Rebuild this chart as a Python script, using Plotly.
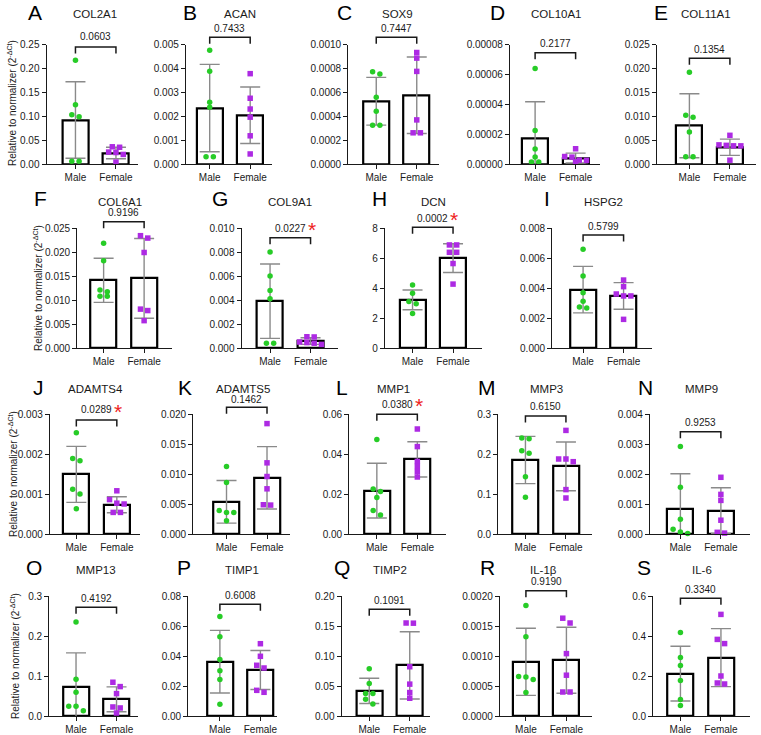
import plotly.graph_objects as go

W, H = 761, 735

# ---------------- data ----------------
letters = list("ABCDEFGHIJKLMNOPQRS")
genes = ["COL2A1", "ACAN", "SOX9", "COL10A1", "COL11A1",
         "COL6A1", "COL9A1", "DCN", "HSPG2",
         "ADAMTS4", "ADAMTS5", "MMP1", "MMP3", "MMP9",
         "MMP13", "TIMP1", "TIMP2", "IL-1β", "IL-6"]
p_values = ["0.0603", "0.7433", "0.7447", "0.2177", "0.1354",
            "0.9196", "0.0227", "0.0002", "0.5799",
            "0.0289", "0.1462", "0.0380", "0.6150", "0.9253",
            "0.4192", "0.6008", "0.1091", "0.9190", "0.3340"]
significant = [False, False, False, False, False,
               False, True, True, False,
               True, False, True, False, False,
               False, False, False, False, False]
groups = ["Male", "Female"]

male_values = [
    [0.217, 0.124, 0.103, 0.099, 0.006, 0.006],
    [0.00476, 0.00388, 0.00258, 0.00237, 0.0003, 0.0003],
    [0.000772, 0.000753, 0.000558, 0.000442, 0.000325, 0.000325],
    [0.0000640, 0.0000224, 0.0000100, 0.0000047, 0.0000013, 0.0000013],
    [0.0192, 0.0102, 0.0098, 0.0067, 0.0015, 0.0015],
    [0.0218, 0.0182, 0.0121, 0.0117, 0.0108, 0.0108],
    [0.0080, 0.0060, 0.0048, 0.0041, 0.0004, 0.0004],
    [4.20, 3.65, 3.10, 2.95, 2.30],
    [0.00658, 0.0048, 0.00369, 0.00311, 0.00273, 0.00267],
    [0.00253, 0.00189, 0.00183, 0.00112, 0.00100, 0.00063],
    [0.01125, 0.0086, 0.0039, 0.0036, 0.0036, 0.0022],
    [0.0473, 0.0225, 0.0213, 0.0183, 0.0118, 0.0095],
    [0.240, 0.238, 0.208, 0.202, 0.143, 0.092],
    [0.00292, 0.00156, 0.00049, 0.000157, 0.000067, 0.00002],
    [0.235, 0.0919, 0.0593, 0.0242, 0.0242, 0.0134],
    [0.0664, 0.0529, 0.0376, 0.0302, 0.0244, 0.0078],
    [0.0788, 0.0542, 0.0374, 0.0374, 0.028, 0.0201],
    [0.00184, 0.00132, 0.00066, 0.00065, 0.00061, 0.00039],
    [0.417, 0.292, 0.253, 0.177, 0.083, 0.053],
]
female_values = [
    [0.036, 0.035, 0.025, 0.024, 0.020, 0.004],
    [0.00378, 0.00275, 0.0023, 0.00196, 0.00118, 0.00042],
    [0.000933, 0.000886, 0.000775, 0.000369, 0.000261, 0.000261],
    [0.0000102, 0.0000050, 0.0000046, 0.0000026, 0.0000024, 0.0000015],
    [0.0060, 0.0040, 0.0039, 0.0038, 0.0038, 0.0008],
    [0.0234, 0.0229, 0.0199, 0.0081, 0.0078, 0.0057],
    [0.00094, 0.00092, 0.00050, 0.00045, 0.00040, 0.00030],
    [6.87, 6.87, 6.38, 6.38, 5.63, 4.26],
    [0.00453, 0.00409, 0.0036, 0.00347, 0.00347, 0.00191],
    [0.00108, 0.00086, 0.00077, 0.00075, 0.00054, 0.00054],
    [0.0184, 0.01186, 0.00958, 0.00753, 0.00488, 0.00482],
    [0.0525, 0.0437, 0.0363, 0.0338, 0.0312, 0.0285],
    [0.259, 0.1875, 0.1875, 0.1808, 0.111, 0.090],
    [0.00189, 0.00132, 0.00112, 0.00046, 0.000056, 0.00003],
    [0.0844, 0.0735, 0.056, 0.0226, 0.0201, 0.0075],
    [0.0482, 0.0398, 0.0338, 0.032, 0.0171, 0.0158],
    [0.155, 0.1547, 0.0821, 0.0531, 0.0391, 0.0296],
    [0.00163, 0.00155, 0.00104, 0.00068, 0.0004, 0.0004],
    [0.508, 0.383, 0.362, 0.200, 0.165, 0.160],
]
male_mean = [0.092, 0.00234, 0.000525, 0.0000173, 0.0080,
             0.0141, 0.0039, 3.21, 0.00389,
             0.00149, 0.00537, 0.0217, 0.185, 0.00084,
             0.0727, 0.0362, 0.0419, 0.000903, 0.2117]
male_sd = [0.080, 0.00183, 0.0002, 0.0000244, 0.0067,
           0.0046, 0.0031, 0.66, 0.00155,
           0.0007, 0.00355, 0.0137, 0.059, 0.00117,
           0.085, 0.0209, 0.021, 0.00056, 0.137]
female_mean = [0.023, 0.00204, 0.000575, 0.0000040, 0.0035,
               0.0145, 0.00058, 5.99, 0.00347,
               0.00073, 0.00936, 0.0373, 0.169, 0.00078,
               0.0418, 0.0307, 0.0844, 0.00093, 0.2917]
female_sd = [0.012, 0.00118, 0.00032, 0.0000033, 0.0017,
             0.0083, 0.00028, 0.96, 0.00089,
             0.0002, 0.0052, 0.0088, 0.061, 0.00076,
             0.031, 0.013, 0.056, 0.00055, 0.145]
y_max = [0.25, 0.005, 0.001, 0.00008, 0.025,
         0.025, 0.010, 8, 0.008,
         0.003, 0.020, 0.06, 0.3, 0.004,
         0.3, 0.08, 0.20, 0.002, 0.6]
y_step = [0.05, 0.001, 0.0002, 0.00002, 0.005,
          0.005, 0.002, 2, 0.002,
          0.001, 0.005, 0.02, 0.1, 0.001,
          0.1, 0.02, 0.05, 0.0005, 0.2]
y_decimals = [2, 3, 4, 5, 3, 3, 3, 0, 3, 3, 3, 2, 1, 3, 1, 2, 2, 4, 1]

# ---------------- layout (pixels) ----------------
row_of = [0]*5 + [1]*4 + [2]*5 + [3]*5
row_top = [44.5, 228, 414, 596]
row_bot = [164, 348, 534, 716]
row_title_y = [14, 201.5, 388.5, 570]
row_letter_y = [13, 198.5, 387, 567]
# axis line x, axis right end x, left pad in category units
axis_geom = [
    (46.7, 138, 0.71), (186, 272, 0.585), (348.3, 439, 0.69), (510, 600, 0.62), (657, 756, 0.80),
    (77.3, 171.7, 0.65), (241.7, 338.3, 0.70), (385, 481.7, 0.68), (552.3, 651.7, 0.76),
    (50, 140, 0.65), (193.3, 290, 0.82), (349.3, 446, 0.68), (498.3, 592, 0.67), (650, 750, 0.75),
    (49.3, 138.3, 0.66), (188.3, 277, 0.78), (341.7, 430, 0.68), (500, 592, 0.64), (653.3, 750, 0.67),
]
letter_x = [35, 190, 344, 497, 661, 40, 220, 379, 547, 38, 185, 342, 487, 645, 34, 184, 342, 487, 644]
title_x = [95, 240, 397, 556, 706, 120, 290, 433, 603, 95, 243, 393, 546, 701, 96, 242, 390, 543, 702]
bracket_y = [47, 37.3, 37.3, 52.7, 58.3, 221.7, 237.7, 227.3, 235,
             420, 407.3, 414.3, 416, 431.7, 607.3, 604.3, 609.3, 590.7, 598.3]
ptext_y = [36.7, 28.3, 28.3, 43.3, 49.3, 212.7, 228.3, 218.3, 226,
           410, 399.8, 404.3, 406.7, 422.3, 598.3, 595, 600, 581.7, 589.3]
ylabel_pos = [(12, 103), (38, 288), (13, 474), (15, 656)]

PX_PER_CAT = 40.5
GREEN = "#27cc27"
PURPLE = "#ad2ae3"
FONT = "Liberation Sans, Arial, Helvetica, sans-serif"
INK = "#1a1a1a"


def fx(px):
    return px / W


def fy(px):
    return 1 - px / H


def swarm(values, center, px_per_unit, thr=5.0, step=0.18):
    order = sorted(range(len(values)), key=lambda i: -values[i])
    rows = []
    for i in order:
        if rows and (values[rows[-1][0]] - values[i]) * px_per_unit < thr:
            rows[-1].append(i)
        else:
            rows.append([i])
    xs = [center] * len(values)
    for r in rows:
        n = len(r)
        for k, i in enumerate(r):
            xs[i] = center + (k - (n - 1) / 2) * step
    return xs


fig = go.Figure()
shapes = []
annotations = []
layout_axes = {}

for i in range(len(genes)):
    n = "" if i == 0 else str(i + 1)
    xa, ya = "x" + n, "y" + n
    r = row_of[i]
    ax0, ax1, pad = axis_geom[i]
    xmin = -pad
    xmax = xmin + (ax1 - ax0) / PX_PER_CAT
    top, bot = row_top[r], row_bot[r]
    px_per_unit = (bot - top) / y_max[i]

    fig.add_trace(go.Bar(
        x=[0, 1], y=[male_mean[i], female_mean[i]], width=0.64,
        marker=dict(color="white", line=dict(color="black", width=2.2)),
        error_y=dict(type="data", array=[male_sd[i], female_sd[i]],
                     color="#8a8a8a", thickness=1.4, width=10),
        xaxis=xa, yaxis=ya, showlegend=False, hoverinfo="skip"))
    fig.add_trace(go.Scatter(
        x=swarm(male_values[i], 0, px_per_unit), y=male_values[i], mode="markers",
        marker=dict(color=GREEN, size=5.5, symbol="circle"), cliponaxis=False,
        xaxis=xa, yaxis=ya, showlegend=False))
    fig.add_trace(go.Scatter(
        x=swarm(female_values[i], 1, px_per_unit), y=female_values[i], mode="markers",
        marker=dict(color=PURPLE, size=5.5, symbol="square"), cliponaxis=False,
        xaxis=xa, yaxis=ya, showlegend=False))

    layout_axes["xaxis" + n] = dict(
        domain=[fx(ax0), fx(ax1)], range=[xmin, xmax], anchor=ya,
        tickmode="array", tickvals=[0, 1], ticktext=groups,
        showline=True, linecolor=INK, linewidth=1.4, ticks="outside",
        ticklen=4, tickwidth=1.3, tickcolor=INK, showgrid=False, zeroline=False,
        tickfont=dict(family=FONT, size=10, color=INK), automargin=False,
        fixedrange=True)
    layout_axes["yaxis" + n] = dict(
        domain=[fy(bot), fy(top)], range=[0, y_max[i]], anchor=xa,
        tickmode="linear", tick0=0, dtick=y_step[i],
        tickformat=".%df" % y_decimals[i],
        showline=True, linecolor=INK, linewidth=1.4, ticks="outside",
        ticklen=4, tickwidth=1.3, tickcolor=INK, showgrid=False, zeroline=False,
        tickfont=dict(family=FONT, size=10, color=INK), automargin=False,
        fixedrange=True)

    # bracket
    xd = "x" + n + " domain"
    d0 = (0 - xmin) / (xmax - xmin)
    d1 = (1 - xmin) / (xmax - xmin)
    dm = (0.5 - xmin) / (xmax - xmin)
    yb = fy(bracket_y[i])
    yl = fy(bracket_y[i] + 6.5)
    shapes.append(dict(type="path", xref=xd, yref="paper",
                       path=f"M {d0},{yl} L {d0},{yb} L {d1},{yb} L {d1},{yl}",
                       line=dict(color=INK, width=1.5)))
    annotations.append(dict(text=p_values[i], xref=xd, yref="paper", x=dm, y=fy(ptext_y[i]),
                            xanchor="center", yanchor="middle", showarrow=False,
                            font=dict(family=FONT, size=10, color=INK)))
    if significant[i]:
        annotations.append(dict(text="*", xref=xd, yref="paper", x=dm, y=fy(ptext_y[i] + 1),
                                xshift=21.5, xanchor="center", yanchor="middle", showarrow=False,
                                font=dict(family=FONT, size=21, color="#ee2222")))
    # titles
    annotations.append(dict(text=genes[i], xref="paper", yref="paper", x=fx(title_x[i]),
                            y=fy(row_title_y[r]), xanchor="center", yanchor="middle",
                            showarrow=False, font=dict(family=FONT, size=11.5, color=INK)))
    annotations.append(dict(text=letters[i], xref="paper", yref="paper", x=fx(letter_x[i]),
                            y=fy(row_letter_y[r]), xanchor="center", yanchor="middle",
                            showarrow=False, font=dict(family=FONT, size=21, color="black")))

for (lx, ly) in ylabel_pos:
    annotations.append(dict(text="Relative to normalizer (2<sup>-ΔCt</sup>)", xref="paper", yref="paper",
                            x=fx(lx), y=fy(ly), textangle=-90, xanchor="center", yanchor="middle",
                            showarrow=False, font=dict(family=FONT, size=10, color=INK)))

fig.update_layout(
    width=W, height=H, margin=dict(l=0, r=0, t=0, b=0),
    paper_bgcolor="white", plot_bgcolor="white", template="none",
    showlegend=False, bargap=0, shapes=shapes, annotations=annotations,
    **layout_axes)

fig.write_html("out.html", config={"displayModeBar": False},
               post_script="document.body.style.margin='0';document.body.style.overflow='hidden';")
